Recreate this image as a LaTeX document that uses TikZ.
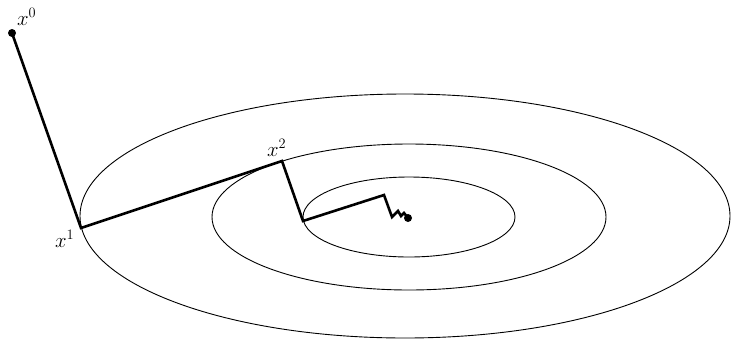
\documentclass[tikz,border=0pt]{standalone}
\usetikzlibrary{calc}

\begin{document}
\begin{tikzpicture}[
      x=1pt, y=-1pt,
      level/.style={line width=0.9pt},
      stepline/.style={line width=2.6pt, line join=miter},
      dot/.style={circle, fill, inner sep=0pt, minimum size=8pt},
      lab/.style={font=\fontsize{22}{26}\selectfont, inner sep=0pt, anchor=base west}
    ]
    \useasboundingbox (0,0) rectangle (731,338);
    % level curves
    \draw[level] (405,216) ellipse [x radius=325, y radius=122];
    \draw[level] (409,217) ellipse [x radius=197, y radius=73];
    \draw[level] (409,217) ellipse [x radius=106, y radius=40];
    % iterates
    \coordinate (x0) at (12,33);
    \coordinate (x1) at (81,228);
    \coordinate (x2) at (282,161);
    \coordinate (x3) at (303,221);
    \coordinate (x4) at (384,195);
    \coordinate (x5) at (392,217);
    \coordinate (x6) at (398,211);
    \coordinate (x7) at (401,216);
    \coordinate (x8) at (404,213);
    \coordinate (xs) at (408,218);
    \draw[stepline] (x0) -- (x1) -- (x2) -- (x3) -- (x4) -- (x5) -- (x6) -- (x7) -- (x8) -- (xs);
    \node[dot] (d0) at (x0) {};
    \node[dot] (ds) at (xs) {};
    \node[lab] (l0) at (17,25) {$x^0$};
    \node[lab] (l1) at (55,247) {$x^1$};
    \node[lab] (l2) at (267,156) {$x^2$};
  \end{tikzpicture}
\end{document}
